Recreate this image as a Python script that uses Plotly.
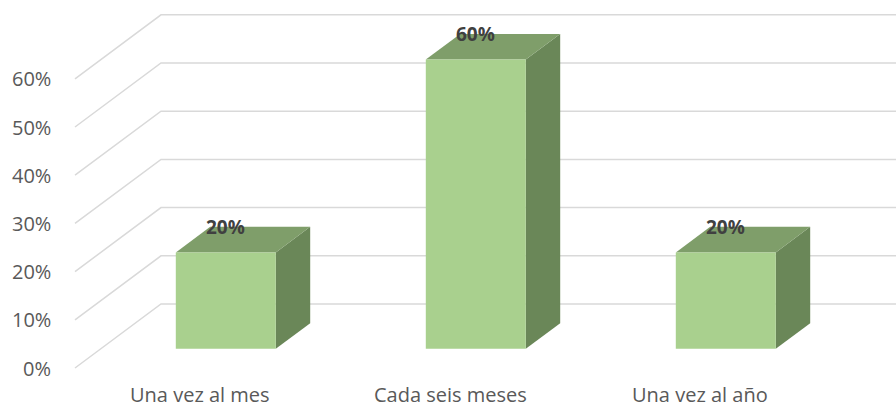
import plotly.graph_objects as go

categories = ["Una vez al mes", "Cada seis meses", "Una vez al año"]
values = [0.20, 0.60, 0.20]
tick_values = [0.0, 0.1, 0.2, 0.3, 0.4, 0.5, 0.6]
tick_labels = ["0%", "10%", "20%", "30%", "40%", "50%", "60%"]
data_labels = ["20%", "60%", "20%"]

# 3D projection parameters (in axis units)
DX, DY = 0.344, 0.1328       # depth vector (front -> back)
BAR_W = 0.4
D0, D1 = 0.3, 0.7            # bar depth extent
X_MIN, X_MAX = -0.8, 2.784
Y_MIN, Y_MAX = -0.0871, 0.7635

FRONT = "#A9D08E"
TOP = "#7F9E6A"
SIDE = "#6A8758"
GRID = "#D9D9D9"
FONT = "'Open Sans', Lato, sans-serif"

fig = go.Figure()

# gridlines: side wall diagonals + back wall horizontals
for v in tick_values:
    xs = [-0.5, -0.5 + DX, X_MAX + 0.5]
    ys = [v, v + DY, v + DY]
    fig.add_trace(go.Scatter(x=xs, y=ys, mode="lines",
                             line=dict(color=GRID, width=1.5),
                             hoverinfo="skip", showlegend=False))

# 3D bars
for i, v in enumerate(values):
    x0 = i - BAR_W / 2 + D0 * DX
    x1 = i + BAR_W / 2 + D0 * DX
    y0 = 0 + D0 * DY
    y1 = v + D0 * DY
    ddx, ddy = (D1 - D0) * DX, (D1 - D0) * DY
    # side face
    fig.add_trace(go.Scatter(
        x=[x1, x1, x1 + ddx, x1 + ddx, x1], y=[y0, y1, y1 + ddy, y0 + ddy, y0],
        fill="toself", fillcolor=SIDE, mode="lines", line=dict(width=0, color=SIDE),
        hoverinfo="skip", showlegend=False))
    # top face
    fig.add_trace(go.Scatter(
        x=[x0, x1, x1 + ddx, x0 + ddx, x0], y=[y1, y1, y1 + ddy, y1 + ddy, y1],
        fill="toself", fillcolor=TOP, mode="lines", line=dict(width=0, color=TOP),
        hoverinfo="skip", showlegend=False))
    # front face
    fig.add_trace(go.Scatter(
        x=[x0, x1, x1, x0, x0], y=[y0, y0, y1, y1, y0],
        fill="toself", fillcolor=FRONT, mode="lines", line=dict(width=0, color=FRONT),
        hoverinfo="skip", showlegend=False))

annotations = []
# value-axis tick labels (front plane)
for v, t in zip(tick_values, tick_labels):
    annotations.append(dict(x=-0.588, y=v, text=t, xanchor="right", yanchor="middle",
                            showarrow=False, font=dict(family=FONT, size=20, color="#595959")))
# category labels
for i, c in enumerate(categories):
    annotations.append(dict(x=i, y=Y_MIN + 0.002, text=c, xanchor="center", yanchor="bottom",
                            showarrow=False, borderpad=0,
                            font=dict(family=FONT, size=20, color="#595959")))
# data labels
for i, (v, t) in enumerate(zip(values, data_labels)):
    annotations.append(dict(x=i + D0 * DX, y=v + D1 * DY, text="<b>" + t + "</b>",
                            xanchor="center", yanchor="middle", showarrow=False,
                            font=dict(family=FONT, size=19, color="#404040")))

fig.update_layout(
    width=896, height=410,
    margin=dict(l=0, r=0, t=0, b=0),
    paper_bgcolor="white", plot_bgcolor="white",
    xaxis=dict(range=[X_MIN, X_MAX], visible=False, fixedrange=True),
    yaxis=dict(range=[Y_MIN, Y_MAX], visible=False, fixedrange=True),
    annotations=annotations,
    showlegend=False,
)

fig.write_html("out.html", config={"displayModeBar": False},
               post_script="document.body.style.margin='0';document.body.style.overflow='hidden';")
